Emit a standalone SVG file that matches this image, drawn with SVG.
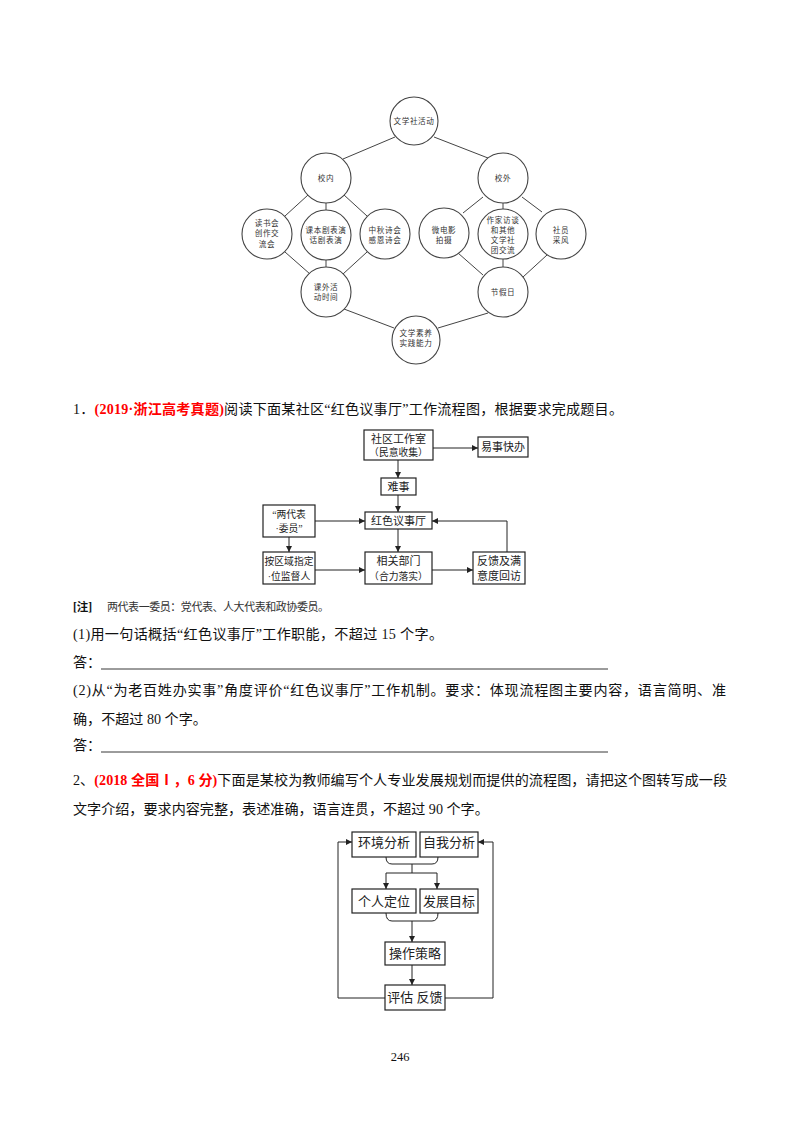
<svg xmlns="http://www.w3.org/2000/svg" width="800" height="1132" viewBox="0 0 800 1132">
<style>
.bg{fill:#fff}
.c{fill:#fff;stroke:#444;stroke-width:1.1}
.ln{stroke:#444;stroke-width:1;fill:none}
.ct{font-family:"Noto Sans CJK SC",sans-serif;font-size:7.6px;fill:#333;text-anchor:middle;letter-spacing:0.6px}
.box{fill:#fff;stroke:#222;stroke-width:1.2}
.bt{font-family:"Liberation Serif","Noto Sans CJK SC",serif;font-size:11px;fill:#222;text-anchor:middle}
.bs{font-family:"Liberation Serif","Noto Sans CJK SC",serif;font-size:9.8px;fill:#222;text-anchor:middle}
.bt2{font-family:"Liberation Serif","Noto Sans CJK SC",serif;font-size:13px;fill:#222;text-anchor:middle}
.ar{stroke:#222;stroke-width:1;fill:none}
.body{font-family:"Liberation Serif","Noto Sans CJK SC",serif;font-size:14.1px;fill:#111}
.red{fill:#ff0000;font-weight:bold}
.note{font-family:"Liberation Serif","Noto Sans CJK SC",serif;font-size:11px;fill:#333}
</style>
<defs>
<marker id="ah" markerUnits="userSpaceOnUse" markerWidth="7" markerHeight="7" refX="6" refY="3" orient="auto">
<path d="M0,0 L6,3 L0,6 z" fill="#222"/>
</marker>
</defs>
<rect class="bg" x="0" y="0" width="800" height="1132"/>

<!-- Diagram 1: literature club -->
<g id="connectors-1">
<line class="ln" x1="343" y1="159" x2="395" y2="137"/>
<line class="ln" x1="434" y1="137" x2="488" y2="158"/>
<line class="ln" x1="308" y1="195" x2="285" y2="216"/>
<line class="ln" x1="326" y1="203" x2="326" y2="210"/>
<line class="ln" x1="344" y1="195" x2="367" y2="216"/>
<line class="ln" x1="285" y1="252" x2="310" y2="274"/>
<line class="ln" x1="326" y1="260" x2="326" y2="267"/>
<line class="ln" x1="367" y1="252" x2="343" y2="274"/>
<line class="ln" x1="344" y1="309" x2="394" y2="328"/>
<line class="ln" x1="438" y1="328" x2="488" y2="313"/>
<line class="ln" x1="483" y1="197" x2="463" y2="213"/>
<line class="ln" x1="503" y1="203" x2="503" y2="209"/>
<line class="ln" x1="522" y1="197" x2="542" y2="212"/>
<line class="ln" x1="458" y1="253" x2="483" y2="275"/>
<line class="ln" x1="503" y1="259" x2="503" y2="267"/>
<line class="ln" x1="547" y1="255" x2="523" y2="277"/>
</g>
<g id="n-wxshd"><circle class="c" cx="414" cy="121" r="24"/><text class="ct" x="414" y="124">文学社活动</text></g>
<g id="n-xiaonei"><circle class="c" cx="326" cy="178" r="25"/><text class="ct" x="326" y="181">校内</text></g>
<g id="n-xiaowai"><circle class="c" cx="503" cy="178" r="25"/><text class="ct" x="503" y="181">校外</text></g>
<g id="n-dushuhui"><circle class="c" cx="267" cy="234" r="25"/><text class="ct" x="267" y="226">读书会</text><text class="ct" x="267" y="236">创作交</text><text class="ct" x="267" y="247">流会</text></g>
<g id="n-kebenju"><circle class="c" cx="326" cy="235" r="25"/><text class="ct" x="326" y="233">课本剧表演</text><text class="ct" x="326" y="243">话剧表演</text></g>
<g id="n-zhongqiu"><circle class="c" cx="385" cy="234" r="25"/><text class="ct" x="385" y="233">中秋诗会</text><text class="ct" x="385" y="243">感恩诗会</text></g>
<g id="n-kewai"><circle class="c" cx="326" cy="292" r="25"/><text class="ct" x="326" y="290">课外活</text><text class="ct" x="326" y="300">动时间</text></g>
<g id="n-suyang"><circle class="c" cx="416" cy="340" r="24"/><text class="ct" x="416" y="336">文学素养</text><text class="ct" x="416" y="346">实践能力</text></g>
<g id="n-weidianying"><circle class="c" cx="444" cy="233" r="25"/><text class="ct" x="444" y="233">微电影</text><text class="ct" x="444" y="243">拍摄</text></g>
<g id="n-zuojia"><circle class="c" cx="503" cy="234" r="25"/><text class="ct" x="503" y="223">作家访谈</text><text class="ct" x="503" y="233">和其他</text><text class="ct" x="503" y="243">文学社</text><text class="ct" x="503" y="253">团交流</text></g>
<g id="n-caifeng"><circle class="c" cx="561" cy="234" r="25"/><text class="ct" x="561" y="233">社员</text><text class="ct" x="561" y="243">采风</text></g>
<g id="n-jiejiari"><circle class="c" cx="503" cy="292" r="25"/><text class="ct" x="503" y="295">节假日</text></g>

<!-- Question 1 -->
<text class="body" x="73" y="414" textLength="550" lengthAdjust="spacing">1．<tspan class="red">(2019·浙江高考真题)</tspan>阅读下面某社区“红色议事厅”工作流程图，根据要求完成题目。</text>

<!-- Flowchart 1 -->
<g id="connectors-2">
<line class="ar" x1="433" y1="448" x2="478" y2="448" marker-end="url(#ah)"/>
<line class="ar" x1="398" y1="460" x2="398" y2="478" marker-end="url(#ah)"/>
<line class="ar" x1="398" y1="495" x2="398" y2="512" marker-end="url(#ah)"/>
<line class="ar" x1="315" y1="521" x2="365" y2="521" marker-end="url(#ah)"/>
<line class="ar" x1="289" y1="537" x2="289" y2="552" marker-end="url(#ah)"/>
<line class="ar" x1="398" y1="529" x2="398" y2="552" marker-end="url(#ah)"/>
<line class="ar" x1="315" y1="570" x2="365" y2="570" marker-end="url(#ah)"/>
<line class="ar" x1="432" y1="570" x2="473" y2="570" marker-end="url(#ah)"/>
<polyline class="ar" points="507,552 507,521 432,521" marker-end="url(#ah)"/>
</g>
<g id="f1-shequ"><rect class="box" x="364" y="430" width="69" height="30"/><text class="bt" x="398.5" y="443">社区工作室</text><text class="bs" x="398.5" y="456">（民意收集）</text></g>
<g id="f1-yishi"><rect class="box" x="478" y="437" width="50" height="20"/><text class="bt" x="503" y="451">易事快办</text></g>
<g id="f1-nanshi"><rect class="box" x="381" y="478" width="35" height="17"/><text class="bt" x="398.5" y="491">难事</text></g>
<g id="f1-hongse"><rect class="box" x="365" y="512" width="67" height="17"/><text class="bt" x="398.5" y="525">红色议事厅</text></g>
<g id="f1-liangdaibiao"><rect class="box" x="263" y="505" width="52" height="32"/><text class="bs" x="289" y="518">“两代表</text><text class="bs" x="289" y="532">·委员”</text></g>
<g id="f1-anquyu"><rect class="box" x="263" y="552" width="52" height="32"/><text class="bs" x="289" y="565">按区域指定</text><text class="bs" x="289" y="580">·位监督人</text></g>
<g id="f1-xiangguan"><rect class="box" x="365" y="552" width="67" height="32"/><text class="bt" x="398.5" y="565">相关部门</text><text class="bs" x="398.5" y="580">（合力落实）</text></g>
<g id="f1-fankui"><rect class="box" x="473" y="552" width="52" height="32"/><text class="bt" x="499" y="565">反馈及满</text><text class="bt" x="499" y="580">意度回访</text></g>

<!-- Notes and sub questions -->
<text x="73" y="611" style="font-family:'Liberation Serif','Noto Sans CJK SC',serif;font-size:11.5px;font-weight:bold;fill:#111">[注]</text>
<text class="note" x="107" y="611" textLength="222" lengthAdjust="spacing">两代表一委员：党代表、人大代表和政协委员。</text>
<text class="body" x="73" y="639" textLength="370" lengthAdjust="spacing">(1)用一句话概括“红色议事厅”工作职能，不超过 15 个字。</text>
<text class="body" x="73" y="667">答：</text>
<line x1="101" y1="669" x2="608" y2="669" stroke="#222" stroke-width="0.9"/>
<text class="body" x="73" y="695" textLength="653" lengthAdjust="spacing">(2)从“为老百姓办实事”角度评价“红色议事厅”工作机制。要求：体现流程图主要内容，语言简明、准</text>
<text class="body" x="73" y="724">确，不超过 80 个字。</text>
<text class="body" x="73" y="750">答：</text>
<line x1="101" y1="752" x2="608" y2="752" stroke="#222" stroke-width="0.9"/>

<!-- Question 2 -->
<text class="body" x="73" y="785" textLength="654" lengthAdjust="spacing">2、<tspan class="red">(2018 全国Ⅰ，6 分)</tspan>下面是某校为教师编写个人专业发展规划而提供的流程图，请把这个图转写成一段</text>
<text class="body" x="73" y="814">文字介绍，要求内容完整，表述准确，语言连贯，不超过 90 个字。</text>

<!-- Flowchart 2 -->
<g id="connectors-3">
<path class="ar" d="M386,857 Q386,864 392,864 H432 Q438,864 438,857"/>
<line class="ar" x1="412" y1="864" x2="412" y2="873"/>
<line class="ar" x1="386" y1="873" x2="437" y2="873"/>
<line class="ar" x1="386" y1="873" x2="386" y2="889" marker-end="url(#ah)"/>
<line class="ar" x1="437" y1="873" x2="437" y2="889" marker-end="url(#ah)"/>
<path class="ar" d="M386,913 Q386,921 392,921 H432 Q438,921 438,913"/>
<line class="ar" x1="412" y1="921" x2="412" y2="942" marker-end="url(#ah)"/>
<line class="ar" x1="412" y1="965" x2="412" y2="985" marker-end="url(#ah)"/>
<polyline class="ar" points="385,998 338,998 338,842 352,842" marker-end="url(#ah)"/>
<polyline class="ar" points="445,998 493,998 493,842 478,842" marker-end="url(#ah)"/>
</g>
<g id="f2-huanjing"><rect class="box" x="352" y="832" width="64" height="25"/><text class="bt2" x="384" y="847">环境分析</text></g>
<g id="f2-ziwo"><rect class="box" x="420" y="832" width="58" height="25"/><text class="bt2" x="449" y="847">自我分析</text></g>
<g id="f2-geren"><rect class="box" x="352" y="889" width="64" height="24"/><text class="bt2" x="384" y="906">个人定位</text></g>
<g id="f2-fazhan"><rect class="box" x="420" y="889" width="58" height="24"/><text class="bt2" x="449" y="906">发展目标</text></g>
<g id="f2-caozuo"><rect class="box" x="385" y="942" width="60" height="23"/><text class="bt2" x="415" y="958">操作策略</text></g>
<g id="f2-pinggu"><rect class="box" x="385" y="985" width="60" height="25"/><text class="bt2" x="415" y="1002">评估 反馈</text></g>

<text x="400" y="1061" style="font-family:'Liberation Serif',serif;font-size:12.5px;fill:#111;text-anchor:middle">246</text>
</svg>
